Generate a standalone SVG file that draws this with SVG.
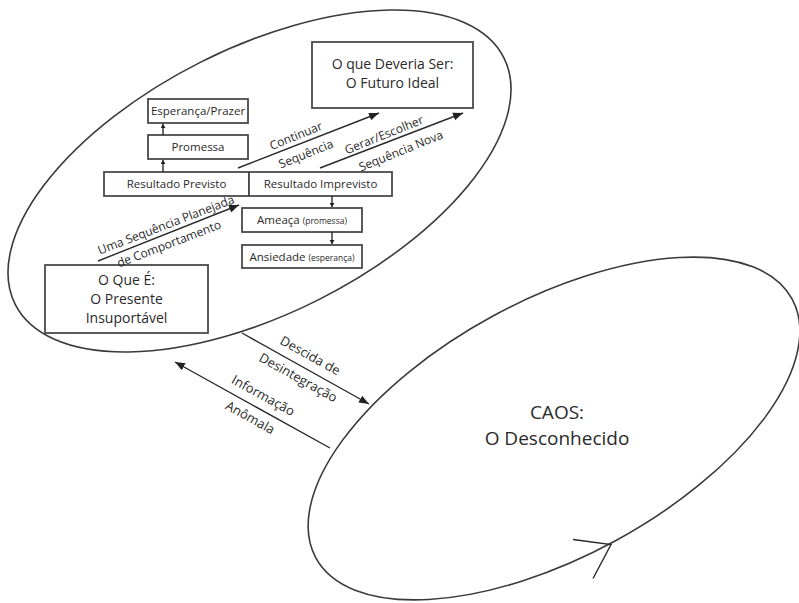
<svg xmlns="http://www.w3.org/2000/svg" width="799" height="603" viewBox="0 0 799 603">
  <style>
    .ell{fill:none;stroke:#3a3a3a;stroke-width:1.6}
    .box{fill:#fff;stroke:#4a4a4a;stroke-width:1.8}
    .t{font-family:"Open Sans","Noto Sans",sans-serif;fill:#2a2a2a;text-anchor:middle}
    .big{font-size:14px}
    .sm{font-size:11.5px}
    .lbl{font-size:12px}
    .lbl2{font-size:13px}
    .tiny{font-size:8.5px}
    .conn{stroke:#2a2a2a;stroke-width:1.4;fill:none}
  </style>
  <defs>
    <marker id="ah" markerUnits="userSpaceOnUse" markerWidth="11" markerHeight="9" refX="10" refY="4.5" orient="auto">
      <path d="M0,0.5 L10,4.5 L0,8.5 z" fill="#222"/>
    </marker>
    <marker id="ahs" markerUnits="userSpaceOnUse" markerWidth="5" markerHeight="5" refX="4" refY="2.5" orient="auto">
      <path d="M0,0 L4,2.5 L0,5 z" fill="#222"/>
    </marker>
  </defs>
  <rect width="799" height="603" fill="#fff"/>

  <!-- two realms: order (top) and chaos (bottom) -->
  <g id="ordem">
    <ellipse class="ell" cx="259.5" cy="181" rx="273.7" ry="132.6" transform="rotate(-26.8 259.5 181)"/>
  </g>
  <g id="caos">
    <ellipse class="ell" cx="554" cy="428.5" rx="271" ry="128" transform="rotate(-28.5 554 428.5)"/>
    <path class="conn" d="M573,539.5 L611,544.5 L593,578.5"/>
    <text class="t" x="557" y="419" font-size="19">CAOS:</text>
    <text class="t" x="557" y="445" font-size="19">O Desconhecido</text>
  </g>

  <!-- nodes -->
  <g id="futuro">
    <rect class="box" x="312" y="42" width="161" height="66"/>
    <text class="t big" x="392.5" y="69">O que Deveria Ser:</text>
    <text class="t big" x="392.5" y="88">O Futuro Ideal</text>
  </g>
  <g id="esperanca">
    <rect class="box" x="148" y="99" width="100" height="24"/>
    <text class="t sm" x="198" y="115">Esperança/Prazer</text>
  </g>
  <g id="promessa">
    <rect class="box" x="148" y="135" width="100" height="24"/>
    <text class="t sm" x="198" y="151">Promessa</text>
  </g>
  <g id="previsto">
    <rect class="box" x="104" y="172" width="145" height="24"/>
    <text class="t sm" x="176.5" y="188">Resultado Previsto</text>
  </g>
  <g id="imprevisto">
    <rect class="box" x="249" y="172" width="143" height="24"/>
    <text class="t sm" x="320.5" y="188">Resultado Imprevisto</text>
  </g>
  <g id="ameaca">
    <rect class="box" x="242" y="208" width="120" height="24"/>
    <text class="t sm" x="302" y="224">Ameaça <tspan class="tiny">(promessa)</tspan></text>
  </g>
  <g id="ansiedade">
    <rect class="box" x="242" y="245" width="120" height="23"/>
    <text class="t sm" x="302" y="261">Ansiedade <tspan class="tiny">(esperança)</tspan></text>
  </g>
  <g id="presente">
    <rect class="box" x="45" y="265" width="163" height="68"/>
    <text class="t big" x="126.5" y="285">O Que É:</text>
    <text class="t big" x="126.5" y="304">O Presente</text>
    <text class="t big" x="126.5" y="323">Insuportável</text>
  </g>

  <!-- connectors -->
  <g id="conectores">
    <line class="conn" x1="163" y1="135" x2="163" y2="124" marker-end="url(#ahs)"/>
    <line class="conn" x1="163" y1="172" x2="163" y2="160" marker-end="url(#ahs)"/>
    <line class="conn" x1="332" y1="196" x2="332" y2="207" marker-end="url(#ahs)"/>
    <line class="conn" x1="332" y1="232" x2="332" y2="244" marker-end="url(#ahs)"/>

    <line class="conn" x1="238" y1="168" x2="379" y2="113" marker-end="url(#ah)"/>
    <line class="conn" x1="320" y1="168" x2="463" y2="113" marker-end="url(#ah)"/>
    <line class="conn" x1="98" y1="261" x2="239" y2="205" marker-end="url(#ah)"/>
    <line class="conn" x1="242" y1="333" x2="369" y2="404" marker-end="url(#ah)"/>
    <line class="conn" x1="330" y1="448" x2="175" y2="362" marker-end="url(#ah)"/>

    <text class="t lbl" transform="translate(296 136) rotate(-22)" y="4">Continuar</text>
    <text class="t lbl" transform="translate(306 154) rotate(-22)" y="4">Sequência</text>
    <text class="t lbl" transform="translate(384 135) rotate(-22)" y="4">Gerar/Escolher</text>
    <text class="t lbl" transform="translate(401 151) rotate(-22)" y="4">Sequência Nova</text>
    <text class="t lbl" transform="translate(166 225) rotate(-21)" y="4">Uma Sequência Planejada</text>
    <text class="t lbl" transform="translate(169 244) rotate(-21)" y="4">de Comportamento</text>

    <text class="t lbl2" transform="translate(310 356) rotate(29)" y="4">Descida de</text>
    <text class="t lbl2" transform="translate(298 378) rotate(29)" y="4">Desintegração</text>
    <text class="t lbl2" transform="translate(263 396) rotate(29)" y="4">Informação</text>
    <text class="t lbl2" transform="translate(250 418) rotate(29)" y="4">Anômala</text>
  </g>
</svg>
